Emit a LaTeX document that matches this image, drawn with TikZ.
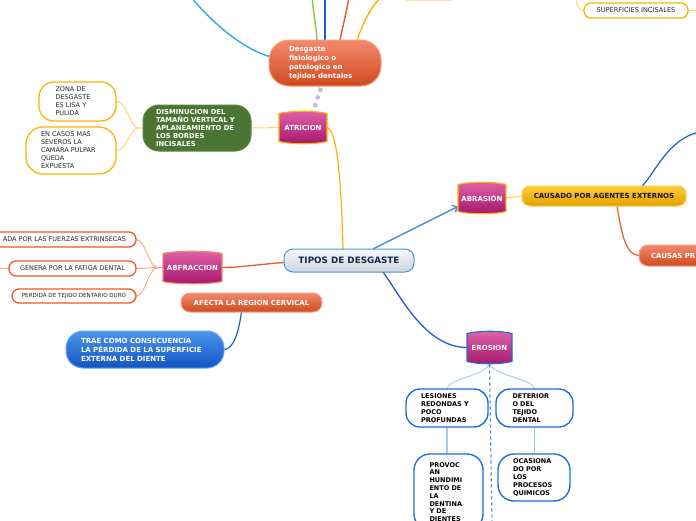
\documentclass[tikz,border=0pt]{standalone}
\usepackage{fontspec}
\setmainfont{DejaVu Sans}
\usetikzlibrary{arrows.meta,calc}
\pgfdeclarelayer{bg}
\pgfsetlayers{bg,main}
\definecolor{cY}{HTML}{FFB400}
\definecolor{cYl}{HTML}{FFD470}
\definecolor{cO}{HTML}{F0572A}
\definecolor{cOl}{HTML}{F9A58A}
\definecolor{cB}{HTML}{1F6FDB}
\definecolor{cBl}{HTML}{A9C9F2}
\definecolor{cLB}{HTML}{29A8E8}
\definecolor{cG}{HTML}{8CC43C}
\definecolor{cDB}{HTML}{1560D8}
\definecolor{cLav}{HTML}{C8B4E0}
\definecolor{oT}{HTML}{F4896C}
\definecolor{oB}{HTML}{CF4A1E}
\definecolor{oD}{HTML}{F7A080}
\definecolor{mgT}{HTML}{E162AA}
\definecolor{mgB}{HTML}{A5166A}
\definecolor{gF}{HTML}{4A7533}
\definecolor{gD}{HTML}{5A8540}
\definecolor{tT}{HTML}{F6F9FC}
\definecolor{tB}{HTML}{CCD5DE}
\definecolor{tD}{HTML}{4D95DB}
\definecolor{tX}{HTML}{15284B}
\definecolor{yT}{HTML}{FFCB38}
\definecolor{yB}{HTML}{E2A000}
\definecolor{yD}{HTML}{FFD050}
\definecolor{bT}{HTML}{4C95EC}
\definecolor{bB}{HTML}{1254C2}
\definecolor{bD}{HTML}{6AA6EE}
\definecolor{cArr}{HTML}{4A8AE0}
\newcommand\myfs[2]{\fontsize{#1}{#2}\selectfont}
\newcommand\magshape[2]{%
  \path[draw=#2, line width=1.1pt, top color=mgT, bottom color=mgB]
   (#1.north west) .. controls +(12,-3) and +(-12,-3) .. (#1.north east)
   -- (#1.south east) .. controls +(-12,3) and +(12,3) .. (#1.south west) -- cycle;}
\tikzset{
  every node/.style={inner sep=0pt, outer sep=0pt},
  orng/.style={top color=oT, bottom color=oB, draw=oD, line width=1pt, text=white, align=left},
  magn/.style={text=white, font=\bfseries\myfs{7}{8}},
  leafY/.style={draw=cY, line width=1.3pt, fill=white, rounded corners=7pt, font=\myfs{6.5}{8}, text=black!85, align=left},
  leafO/.style={draw=cO, line width=1.3pt, fill=white, rounded corners=7pt, font=\myfs{6.5}{8}, text=black!85},
  leafB/.style={draw=cB, line width=1.4pt, fill=white, rounded corners=14pt, font=\bfseries\myfs{6.5}{8}, text=black, align=left},
  conn/.style={line width=1.4pt},
  thin/.style={line width=0.9pt}
}
\begin{document}
\begin{tikzpicture}[x=1pt,y=-1pt]
\useasboundingbox (0,0) rectangle (696,520);
\clip (0,0) rectangle (696,520);
\begin{pgfonlayer}{bg}
\fill[white] (0,0) rectangle (696,520);
\end{pgfonlayer}

% free ends
\coordinate (e1) at (191,-3);
\coordinate (e2) at (312,-3);
\coordinate (e3) at (325,-3);
\coordinate (e4) at (349,-3);
\coordinate (e5) at (381,-3);
\coordinate (e6) at (575,-3);
\coordinate (e7) at (700,10.5);
\coordinate (e8) at (700,132);
\coordinate (e9) at (-3,268.5);
\coordinate (e10) at (492,524);

% nodes
\node[fill=cY!35, minimum width=45pt, minimum height=14pt] (topn) at (428.5,-6) {};
\node[leafY, minimum width=104pt, minimum height=15pt, font=\myfs{6.6}{8}] (sup) at (636,10.5) {SUPERFICIES INCISALES};

\node[orng, minimum width=112pt, minimum height=46pt, rounded corners=20pt, text width=72pt, font=\bfseries\myfs{7}{9}] (desg) at (325,63) {Desgaste\\fisiologico o\\patologico en\\tejidos dentales};

\node[magn, minimum width=48pt, minimum height=28pt] (atr) at (303,127.5) {ATRICION};

\node[draw=gD, fill=gF, line width=1pt, rounded corners=16pt, minimum width=108pt, minimum height=46pt, text width=82pt, align=left, text=white, font=\bfseries\myfs{6.8}{8}] (dism) at (197,128) {DISMINUCION DEL\\TAMAÑO VERTICAL Y\\APLANEAMIENTO DE\\LOS BORDES\\INCISALES};

\node[leafY, minimum width=77pt, minimum height=39pt, rounded corners=15pt, text width=44pt] (zona) at (77.5,101.5) {ZONA DE\\DESGASTE\\ES LISA Y\\PULIDA};
\node[leafY, minimum width=90pt, minimum height=47pt, rounded corners=17pt, text width=60pt] (casos) at (71,150.5) {EN CASOS MAS\\SEVEROS LA\\CAMARA PULPAR\\QUEDA\\EXPUESTA};

\node[draw=tD, top color=tT, bottom color=tB, line width=1pt, rounded corners=9pt, minimum width=130pt, minimum height=23pt, text=tX, font=\bfseries\myfs{8.8}{10}] (tipos) at (349,260.5) {TIPOS DE DESGASTE};

\node[magn, minimum width=48pt, minimum height=27pt] (abras) at (482,198) {ABRASIÓN};

\node[draw=yD, top color=yT, bottom color=yB, line width=1pt, rounded corners=8pt, minimum width=164pt, minimum height=20pt, text=black!90, font=\bfseries\myfs{7}{8}] (causado) at (604,196) {CAUSADO POR AGENTES EXTERNOS};

\node[orng, anchor=west, minimum height=21pt, rounded corners=9pt, text width=110pt, inner xsep=12pt, font=\bfseries\myfs{7}{8}] (causas) at (639,255.5) {CAUSAS PR};

\node[magn, minimum width=59pt, minimum height=28pt] (abfr) at (192.5,267.5) {ABFRACCION};

\node[leafO, anchor=east, minimum height=15pt, inner xsep=10pt] (ext1) at (136,239.5) {ADA POR LAS FUERZAS EXTRINSECAS};
\node[leafO, minimum width=127pt, minimum height=15pt] (gen) at (72.5,268.5) {GENERA POR LA FATIGA DENTAL};
\node[leafO, minimum width=124pt, minimum height=14pt, font=\myfs{5.6}{7}] (perd) at (74,296) {PERDIDA DE TEJIDO DENTARIO DURO};

\node[orng, minimum width=141pt, minimum height=19pt, rounded corners=9pt, font=\bfseries\myfs{7}{8}] (afecta) at (251.5,302.5) {AFECTA LA REGION CERVICAL};

\node[draw=bD, top color=bT, bottom color=bB, line width=1pt, rounded corners=17pt, minimum width=158pt, minimum height=37pt, text width=128pt, align=left, text=white, font=\bfseries\myfs{7}{9}] (trae) at (145,349.5) {TRAE COMO CONSECUENCIA\\LA PÉRDIDA DE LA SUPERFICIE\\EXTERNA DEL DIENTE};

\node[magn, minimum width=45pt, minimum height=28pt] (eros) at (489.5,347.5) {EROSION};

\node[leafB, minimum width=82pt, minimum height=38pt, text width=52pt] (les) at (447,408) {LESIONES\\REDONDAS Y\\POCO\\PROFUNDAS};
\node[leafB, minimum width=77pt, minimum height=38pt, text width=44pt] (det) at (534.5,408) {DETERIOR\\O DEL\\TEJIDO\\DENTAL};
\node[leafB, minimum width=69pt, minimum height=76pt, rounded corners=16pt, text width=38pt, font=\bfseries\myfs{6.5}{7.8}] (prov) at (448.5,492) {PROVOC\\AN\\HUNDIMI\\ENTO DE\\LA\\DENTINA\\Y DE\\DIENTES};
\node[leafB, minimum width=72pt, minimum height=47pt, rounded corners=16pt, text width=42pt] (oca) at (534,477.5) {OCASIONA\\DO POR\\LOS\\PROCESOS\\QUIMICOS};

\begin{pgfonlayer}{bg}
% connectors from desg upwards
\draw[cLB, conn] ($(desg.west)+(2,-6)$) .. controls (240,48) and (210,20) .. (e1);
\draw[cG, conn] ($(desg.north)+(-8,0)$) .. controls (316,25) and (313,10) .. (e2);
\draw[cDB, conn] (desg.north) -- (e3);
\draw[cO, conn] ($(desg.north)+(15,0)$) .. controls (343,25) and (347,10) .. (e4);
\draw[cY, conn] ($(desg.north)+(32,1)$) .. controls (362,25) and (370,8) .. (e5);
% superficies
\draw[cYl, thin] (e6) .. controls (578,6) and (578,10.5) .. (sup.west);
\draw[cYl, thin] (sup.east) -- (e7);
% dotted desg - atr
\draw[cLav, line width=4pt, dash pattern=on 4pt off 4pt] ($(desg.south)+(-4,2)$) -- ($(atr.north)+(10,-2)$);
% atr - dism - leaves
\draw[cYl, thin] (atr.west) -- (dism.east);
\draw[cYl, thin] (dism.west) -- +(-4,0) .. controls +(-10,0) and +(12,0) .. (zona.east);
\draw[cYl, thin] (dism.west) -- +(-4,0) .. controls +(-10,0) and +(12,0) .. (casos.east);
% atr - tipos
\draw[cY, line width=1.2pt] (atr.east) .. controls +(9,2) and +(-2,-80) .. ($(tipos.north)+(-6,0)$);
% tipos - abrasion arrow
\draw[cArr, line width=1.4pt, -{Straight Barb[length=4pt,width=8pt]}] ($(tipos.north)+(24,0)$) -- ($(abras.south west)+(0,-5)$);
\draw[cYl, line width=1.2pt] (abras.east) -- (causado.west);
\draw[cDB, line width=1.2pt] ($(causado.north)+(38,0)$) .. controls (654,175) and (668,138) .. (e8);
\draw[cO, line width=1.2pt] ($(causado.south)+(13,0)$) .. controls (621,230) and (625,255.5) .. (causas.west);
% tipos - abfraccion
\draw[cO, line width=1.3pt] ($(tipos.west)+(0,2)$) .. controls (262,264) and (240,267.5) .. (abfr.east);
\draw[cOl, thin] (abfr.west) -- +(-5,0) .. controls +(-10,0) and +(10,0) .. (ext1.east);
\draw[cOl, thin] (abfr.west) -- +(-5,0) .. controls +(-10,0) and +(10,0) .. (gen.east);
\draw[cOl, thin] (abfr.west) -- +(-5,0) .. controls +(-10,0) and +(10,0) .. (perd.east);
\draw[cOl, thin] (gen.west) -- (e9);
% afecta - trae
\draw[cDB, line width=1.2pt] ($(afecta.south)+(-10,0)$) .. controls (239,330) and (234,349.5) .. (trae.east);
% tipos - erosion
\draw[cDB, line width=1.3pt] ($(tipos.south)+(34,0)$) .. controls (400,295) and (425,347.5) .. (eros.west);
% erosion subtree
\draw[cBl, thin] ($(eros.south)+(0,2)$) .. controls +(-3,12) and +(0,-10) .. (les.north);
\draw[cBl, thin] ($(eros.south)+(0,2)$) .. controls +(3,12) and +(0,-10) .. (det.north);
\draw[cArr, line width=1.2pt, dash pattern=on 3pt off 3pt] ($(eros.south)+(0,3)$) -- (e10);
\draw[cBl, line width=1.8pt] (les.south) -- (les.south |- prov.north);
\draw[cBl, line width=1.8pt] (det.south) -- (det.south |- oca.north);
% magenta shapes
\magshape{atr}{cY}
\magshape{abras}{cY}
\magshape{abfr}{cO!70}
\magshape{eros}{cB}
\end{pgfonlayer}
\end{tikzpicture}
\end{document}
